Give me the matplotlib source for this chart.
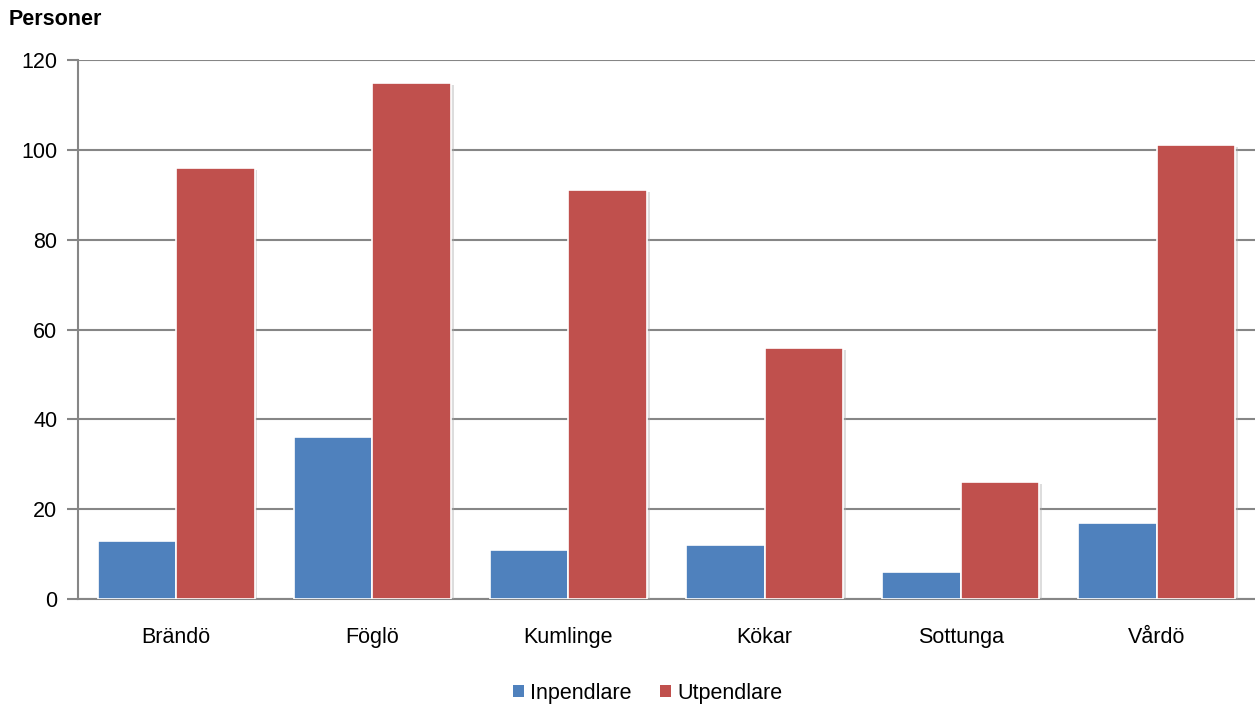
import numpy as np
import matplotlib
matplotlib.use("Agg")
import matplotlib.pyplot as plt
import matplotlib.patheffects as pe
from matplotlib.patches import Patch

plt.rcParams['font.family'] = ['Liberation Sans', 'DejaVu Sans']

# Data
kommuner = ["Brändö", "Föglö", "Kumlinge", "Kökar", "Sottunga", "Vårdö"]
inpendlare = [13, 36, 11, 12, 6, 17]
utpendlare = [96, 115, 91, 56, 26, 101]
yticks = [0, 20, 40, 60, 80, 100, 120]

blue = "#4F81BD"
red = "#C0504D"
grid_col = "#868686"

fig = plt.figure(figsize=(12.55, 7.09), dpi=100)
ax = fig.add_axes([0.0622, 0.155, 0.9378, 0.7603])

x = np.arange(len(kommuner))
w = 0.4
shadow = [pe.SimplePatchShadow(offset=(2, -1.5), shadow_rgbFace="#aaaaaa", alpha=0.4), pe.Normal()]

b1 = ax.bar(x - w/2, inpendlare, w, color=blue, edgecolor="white", linewidth=1.2, zorder=3)
b2 = ax.bar(x + w/2, utpendlare, w, color=red, edgecolor="white", linewidth=1.2, zorder=3)
for p in list(b1) + list(b2):
    p.set_path_effects(shadow)

ax.set_xlim(-0.5, len(kommuner) - 0.5)
ax.set_ylim(0, 120)
ax.set_yticks(yticks)
ax.set_xticks(x)
ax.set_xticklabels(kommuner, fontsize=15.5)
ax.tick_params(axis='y', labelsize=15.5, length=8, width=1.5, color=grid_col, pad=7)
ax.tick_params(axis='x', length=0, pad=20)

ax.grid(axis='y', color=grid_col, linewidth=1.5, zorder=0)
ax.set_axisbelow(True)
for s in ["top", "right"]:
    ax.spines[s].set_visible(False)
for s in ["left", "bottom"]:
    ax.spines[s].set_color(grid_col)
    ax.spines[s].set_linewidth(1.5)

fig.text(0.007, 0.972, "Personer", fontsize=15.5, fontweight="bold", va="center", ha="left")

handles = [Patch(facecolor=blue, edgecolor="none", label="Inpendlare"),
           Patch(facecolor=red, edgecolor="none", label="Utpendlare")]
fig.legend(handles=handles, loc="center", bbox_to_anchor=(0.516, 0.022), ncol=2,
           frameon=False, fontsize=15.5, handlelength=0.5, handleheight=0.5,
           handletextpad=0.3, columnspacing=1.3)

fig.savefig("out.png", dpi=100)
